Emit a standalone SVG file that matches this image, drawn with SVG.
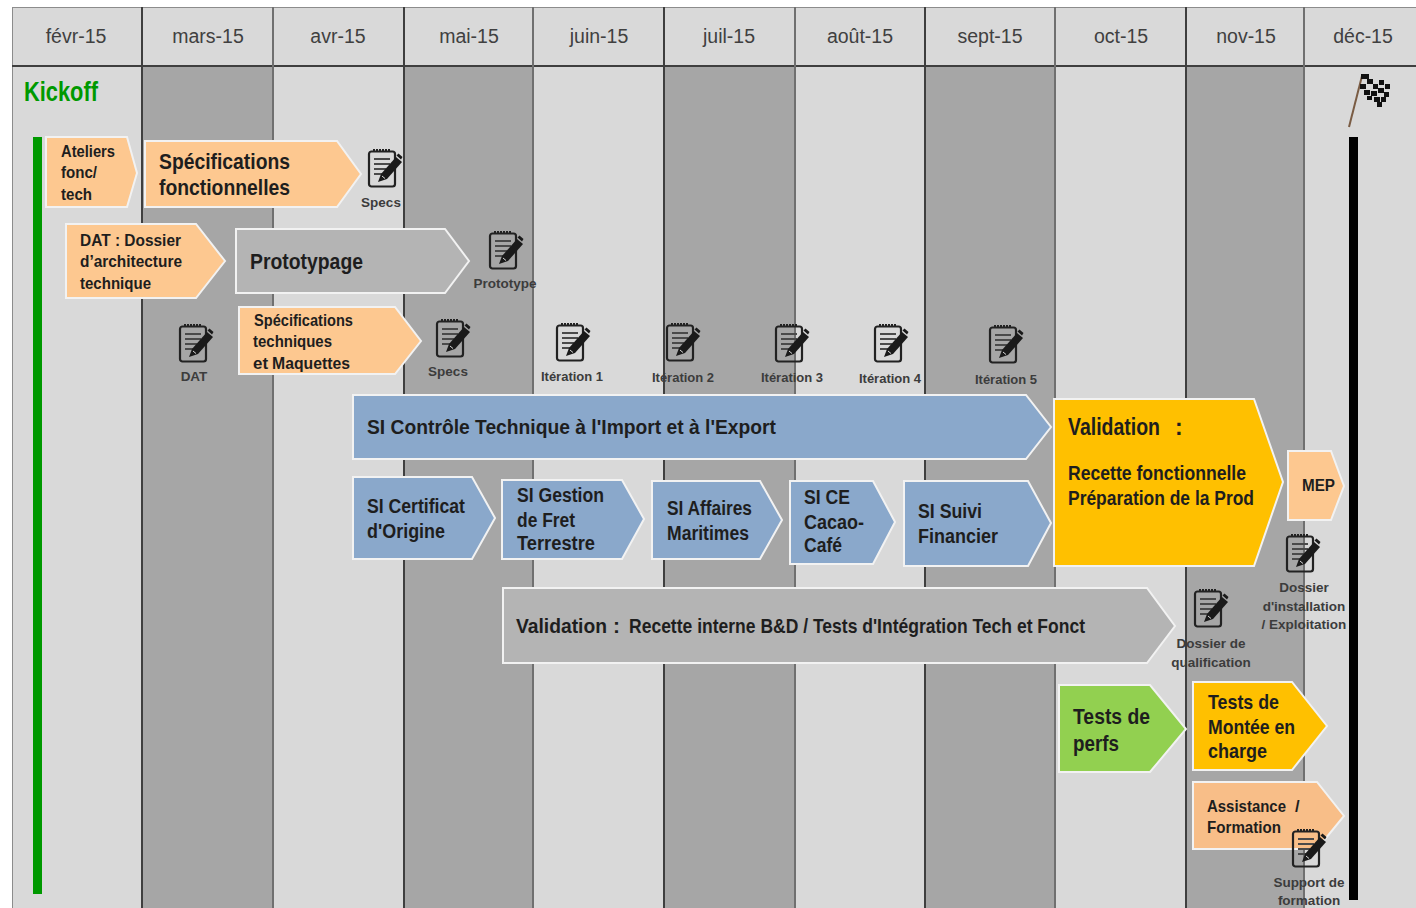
<svg xmlns="http://www.w3.org/2000/svg" width="1416" height="908" viewBox="0 0 1416 908">
<style>
text{font-family:"Liberation Sans",Arial,sans-serif;fill:#1e1e1e}
.b{font-weight:700}
.h{font-size:19.500px;fill:#404040;text-anchor:middle}
.d{font-size:13.500px;font-weight:700;fill:#3c3c3c;text-anchor:middle}
.i{font-size:13px}
.a{stroke:#f2f2f2;stroke-width:2;stroke-linejoin:miter}
.or{fill:#fdc890}.gr{fill:#b4b4b4}.bl{fill:#8aa8cb}.ye{fill:#ffc000}.gn{fill:#92d050}
.sep{stroke:#3f3f3f;stroke-width:2;fill:none}
.sep2{stroke:#707070;stroke-width:2;fill:none}
</style>
<defs>
<g id="note">
<rect x="1" y="2.500" width="26" height="35" rx="2.500" fill="none" stroke="#222" stroke-width="2.200"/>
<path d="M5 1.500h18" stroke="#222" stroke-width="3" stroke-dasharray="2 1" fill="none"/>
<path d="M6 10h16M6 15h16M6 20h12M6 25h8" stroke="#4a4a4a" stroke-width="1.800" fill="none"/>
<path d="M10 33l3-8 15-17 6 5-15 17z" fill="#1a1a1a"/>
<path d="M28.500 6.500l2-2 4 3.500-1.500 2.500z" fill="#1a1a1a"/>
<path d="M14 27l3 2.500" stroke="#d9d9d9" stroke-width="1" fill="none"/>
</g>
</defs>
<rect width="1416" height="908" fill="#ffffff"/>
<g id="grid">
<rect x="12" y="7" width="1404" height="901" fill="#d9d9d9"/>
<rect x="142" y="66" width="131" height="842" fill="#a6a6a6"/>
<rect x="404" y="66" width="129" height="842" fill="#a6a6a6"/>
<rect x="664" y="66" width="131" height="842" fill="#a6a6a6"/>
<rect x="925" y="66" width="130" height="842" fill="#a6a6a6"/>
<rect x="1186" y="66" width="118" height="842" fill="#a6a6a6"/>
<path d="M12 7.500H1416M12.500 8V908" stroke="#8c8c8c" stroke-width="1" fill="none"/>
<path class="sep" d="M12 66H1416"/>
<path class="sep" d="M142 7V908M404 7V908M664 7V908M925 7V908M1186 7V908"/>
<path class="sep2" d="M273 7V908M533 7V908M795 7V908M1055 7V908M1304 7V908"/>
</g>
<g id="months">
<text class="h" x="76" y="43">févr-15</text>
<text class="h" x="208" y="43">mars-15</text>
<text class="h" x="338" y="43">avr-15</text>
<text class="h" x="469" y="43">mai-15</text>
<text class="h" x="599" y="43">juin-15</text>
<text class="h" x="729" y="43">juil-15</text>
<text class="h" x="860" y="43">août-15</text>
<text class="h" x="990" y="43">sept-15</text>
<text class="h" x="1121" y="43">oct-15</text>
<text class="h" x="1246" y="43">nov-15</text>
<text class="h" x="1363" y="43">déc-15</text>
</g>
<g id="kickoff">
<text class="b" x="24" y="101" font-size="27" textLength="74" lengthAdjust="spacingAndGlyphs" style="fill:#009900">Kickoff</text>
<rect x="33" y="137" width="9" height="757" fill="#009900"/>
</g>
<g id="finish">
<rect x="1349" y="137" width="9" height="763" fill="#000"/>
<path d="M1349 127L1362 76" stroke="#7a5c44" stroke-width="2" fill="none"/>
<path d="M1361 74h8v5h-8z" fill="#111"/>
<g fill="#111">
<rect x="1360" y="84" width="6" height="5"/><rect x="1367" y="79" width="6" height="5"/><rect x="1373" y="84" width="5" height="5"/><rect x="1379" y="80" width="5" height="5"/><rect x="1385" y="84" width="5" height="5"/>
<rect x="1364" y="90" width="6" height="5"/><rect x="1371" y="91" width="6" height="5"/><rect x="1378" y="88" width="6" height="5"/><rect x="1384" y="92" width="5" height="5"/>
<rect x="1367" y="96" width="5" height="4"/><rect x="1374" y="97" width="6" height="5"/><rect x="1381" y="97" width="5" height="5"/>
<rect x="1377" y="102" width="5" height="5"/>
</g>
</g>
<g id="n-ateliers"><path class="a or" d="M46 137H127L137 173L127 207H46Z"/>
<text class="b" font-size="16"><tspan x="61" y="157" textLength="54" lengthAdjust="spacingAndGlyphs">Ateliers</tspan><tspan x="61" y="178" textLength="36" lengthAdjust="spacingAndGlyphs">fonc/</tspan><tspan x="61" y="200" textLength="31" lengthAdjust="spacingAndGlyphs">tech</tspan></text></g>
<g id="n-specfonc"><path class="a or" d="M145 141H337L361 174L337 207H145Z"/>
<text class="b" font-size="22"><tspan x="159" y="169" textLength="131" lengthAdjust="spacingAndGlyphs">Spécifications</tspan><tspan x="159" y="195" textLength="131" lengthAdjust="spacingAndGlyphs">fonctionnelles</tspan></text></g>
<g id="n-dat"><path class="a or" d="M66 224H196L225 261L196 298H66Z"/>
<text class="b" font-size="16.500"><tspan x="80" y="246" textLength="101" lengthAdjust="spacingAndGlyphs">DAT : Dossier</tspan><tspan x="80" y="267" textLength="102" lengthAdjust="spacingAndGlyphs">d’architecture</tspan><tspan x="80" y="289" textLength="71" lengthAdjust="spacingAndGlyphs">technique</tspan></text></g>
<g id="n-proto"><path class="a gr" d="M236 229H445L469 261L445 293H236Z"/>
<text class="b" font-size="22" x="250" y="269" textLength="113" lengthAdjust="spacingAndGlyphs">Prototypage</text></g>
<g id="n-spectech"><path class="a or" d="M239 307H395L421 341L395 374H239Z"/>
<text class="b" font-size="16.500"><tspan x="254" y="326" textLength="99" lengthAdjust="spacingAndGlyphs">Spécifications</tspan><tspan x="253" y="347" textLength="79" lengthAdjust="spacingAndGlyphs">techniques</tspan><tspan x="253" y="369" textLength="15" lengthAdjust="spacingAndGlyphs">et</tspan><tspan x="272" y="369" textLength="78" lengthAdjust="spacingAndGlyphs">Maquettes</tspan></text></g>
<g id="n-si-ct"><path class="a bl" d="M353 395H1026L1051 427L1026 459H353Z"/>
<text class="b" font-size="21" x="367" y="434" textLength="409" lengthAdjust="spacingAndGlyphs">SI Contrôle Technique à l'Import et à l'Export</text></g>
<g id="n-si-co"><path class="a bl" d="M353 477H472L495 518L472 559H353Z"/>
<text class="b" font-size="20"><tspan x="367" y="513" textLength="98" lengthAdjust="spacingAndGlyphs">SI Certificat</tspan><tspan x="367" y="538" textLength="78" lengthAdjust="spacingAndGlyphs">d'Origine</tspan></text></g>
<g id="n-si-gf"><path class="a bl" d="M502 480H622L644 519L622 559H502Z"/>
<text class="b" font-size="20"><tspan x="517" y="502" textLength="87" lengthAdjust="spacingAndGlyphs">SI Gestion</tspan><tspan x="517" y="527" textLength="58" lengthAdjust="spacingAndGlyphs">de Fret</tspan><tspan x="517" y="550" textLength="78" lengthAdjust="spacingAndGlyphs">Terrestre</tspan></text></g>
<g id="n-si-am"><path class="a bl" d="M652 481H760L782 520L760 559H652Z"/>
<text class="b" font-size="20"><tspan x="667" y="515" textLength="85" lengthAdjust="spacingAndGlyphs">SI Affaires</tspan><tspan x="667" y="540" textLength="82" lengthAdjust="spacingAndGlyphs">Maritimes</tspan></text></g>
<g id="n-si-cc"><path class="a bl" d="M790 481H873L895 522L873 564H790Z"/>
<text class="b" font-size="20"><tspan x="804" y="504" textLength="46" lengthAdjust="spacingAndGlyphs">SI CE</tspan><tspan x="804" y="529" textLength="60" lengthAdjust="spacingAndGlyphs">Cacao-</tspan><tspan x="804" y="552" textLength="38" lengthAdjust="spacingAndGlyphs">Café</tspan></text></g>
<g id="n-si-sf"><path class="a bl" d="M904 481H1028L1051 523L1028 566H904Z"/>
<text class="b" font-size="20"><tspan x="918" y="518" textLength="64" lengthAdjust="spacingAndGlyphs">SI Suivi</tspan><tspan x="918" y="543" textLength="80" lengthAdjust="spacingAndGlyphs">Financier</tspan></text></g>
<g id="n-valid"><path class="a ye" d="M1054 399H1254L1283 482L1254 566H1054Z"/>
<text class="b" font-size="23"><tspan x="1068" y="435" textLength="92" lengthAdjust="spacingAndGlyphs">Validation</tspan><tspan x="1175" y="435">:</tspan></text>
<text class="b" font-size="20"><tspan x="1068" y="480" textLength="178" lengthAdjust="spacingAndGlyphs">Recette fonctionnelle</tspan><tspan x="1068" y="505" textLength="186" lengthAdjust="spacingAndGlyphs">Préparation de la Prod</tspan></text></g>
<g id="n-mep"><path class="a or" d="M1288 451H1331L1344 486L1331 520H1288Z"/>
<text class="b" font-size="16" x="1302" y="491" textLength="33" lengthAdjust="spacingAndGlyphs">MEP</text></g>
<g id="n-validint"><path class="a gr" d="M503 588H1147L1175 626L1147 663H503Z"/>
<text class="b" font-size="21"><tspan x="516" y="633" textLength="91" lengthAdjust="spacingAndGlyphs">Validation</tspan><tspan x="613" y="633">:</tspan><tspan x="629" y="633" textLength="456" lengthAdjust="spacingAndGlyphs">Recette interne B&amp;D / Tests d'Intégration Tech et Fonct</tspan></text></g>
<g id="n-perfs"><path class="a gn" d="M1059 685H1150L1186 729L1150 772H1059Z"/>
<text class="b" font-size="22"><tspan x="1073" y="724" textLength="77" lengthAdjust="spacingAndGlyphs">Tests de</tspan><tspan x="1073" y="751" textLength="46" lengthAdjust="spacingAndGlyphs">perfs</tspan></text></g>
<g id="n-montee"><path class="a ye" d="M1193 682H1292L1327 726L1292 770H1193Z"/>
<text class="b" font-size="21"><tspan x="1208" y="709" textLength="71" lengthAdjust="spacingAndGlyphs">Tests de</tspan><tspan x="1208" y="734" textLength="87" lengthAdjust="spacingAndGlyphs">Montée en</tspan><tspan x="1208" y="758" textLength="59" lengthAdjust="spacingAndGlyphs">charge</tspan></text></g>
<g id="n-assist"><path class="a or" d="M1193 782H1317L1344 816L1317 849H1193Z" style="fill:#f8be88"/>
<text class="b" font-size="16.500"><tspan x="1207" y="812" textLength="79" lengthAdjust="spacingAndGlyphs">Assistance</tspan><tspan x="1295" y="812">/</tspan><tspan x="1207" y="833" textLength="74" lengthAdjust="spacingAndGlyphs">Formation</tspan></text></g>
<g id="d-specs1"><use href="#note" x="368" y="149"/><text class="d" x="381" y="207">Specs</text></g>
<g id="d-proto"><use href="#note" x="489" y="231"/><text class="d" x="505" y="288">Prototype</text></g>
<g id="d-dat"><use href="#note" x="179" y="324"/><text class="d" x="194" y="381">DAT</text></g>
<g id="d-specs2"><use href="#note" x="436" y="319"/><text class="d" x="448" y="376">Specs</text></g>
<g id="d-it1"><use href="#note" x="556" y="323"/><text class="d i" x="572" y="381">Itération 1</text></g>
<g id="d-it2"><use href="#note" x="666" y="323"/><text class="d i" x="683" y="382">Itération 2</text></g>
<g id="d-it3"><use href="#note" x="775" y="324"/><text class="d i" x="792" y="382">Itération 3</text></g>
<g id="d-it4"><use href="#note" x="874" y="324"/><text class="d i" x="890" y="383">Itération 4</text></g>
<g id="d-it5"><use href="#note" x="989" y="325"/><text class="d i" x="1006" y="384">Itération 5</text></g>
<g id="d-qualif"><use href="#note" x="1194" y="589"/><text class="d"><tspan x="1211" y="648">Dossier de</tspan><tspan x="1211" y="667">qualification</tspan></text></g>
<g id="d-install"><use href="#note" x="1286" y="534"/><text class="d"><tspan x="1304" y="592">Dossier</tspan><tspan x="1304" y="611">d'installation</tspan><tspan x="1304" y="629">/ Exploitation</tspan></text></g>
<g id="d-support"><use href="#note" x="1292" y="829"/><text class="d"><tspan x="1309" y="887">Support de</tspan><tspan x="1309" y="905">formation</tspan></text></g>
</svg>
